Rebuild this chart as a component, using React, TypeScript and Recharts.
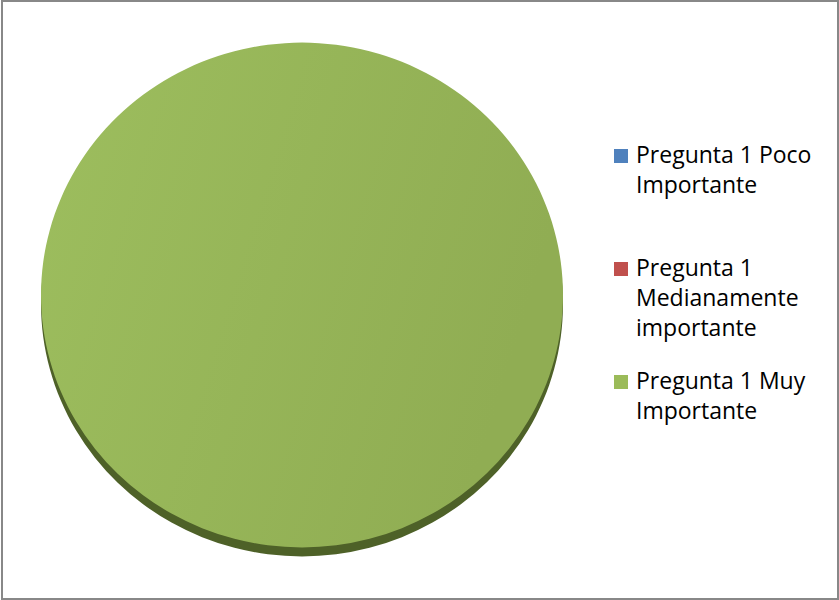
import React from "react";
import { PieChart, Pie, Cell, Legend } from "recharts";

const categories = [
  "Pregunta 1 Poco Importante",
  "Pregunta 1 Medianamente importante",
  "Pregunta 1 Muy Importante",
];
const values = [0, 0, 1];
const colors = ["#4F81BD", "#C0504D", "#9BBB59"];

const data = categories.map((name, i) => ({ name, value: values[i] }));

const CX = 302;
const CY = 295;
const R = 261;

const LegendContent = () => {
  return (
    <div style={{ position: "relative", width: 215, height: 300 }}>
      {categories.map((name, i) => (
        <div
          key={i}
          style={{
            position: "absolute",
            left: 0,
            top: i * 113,
            width: 215,
          }}
        >
          <div
            style={{
              position: "absolute",
              left: 0,
              top: 10,
              width: 14,
              height: 14,
              background: colors[i],
            }}
          />
          <div
            style={{
              position: "absolute",
              left: 22,
              top: 0,
              width: 190,
              fontFamily: "'Open Sans', sans-serif",
              fontSize: 23,
              lineHeight: "30px",
              color: "#000",
            }}
          >
            {name}
          </div>
        </div>
      ))}
    </div>
  );
};

export default function App() {
  return (
    <div style={{ position: "absolute", left: 0, top: 0, width: 839, height: 600, background: "#fff" }}>
      <style>{`
        .pie-squash { transform: scaleY(0.967); transform-origin: ${CX}px ${CY}px; transform-box: view-box; }
        .pie-shadow { transform: translateY(9px) scaleY(0.967); transform-origin: ${CX}px ${CY}px; transform-box: view-box; }
        .pie-squash .pie-squash, .pie-shadow .pie-shadow { transform: none; }
      `}</style>
      <div
        style={{
          position: "absolute",
          left: 1,
          top: 0,
          width: 838,
          height: 600,
          border: "2px solid #888",
          boxSizing: "border-box",
        }}
      />
      <div style={{ position: "absolute", left: 0, top: 0 }}>
        <PieChart width={839} height={600} margin={{ top: 0, right: 0, bottom: 0, left: 0 }}>
          <defs>
            <linearGradient id="faceGrad" x1="0" y1="0" x2="1" y2="0.3">
              <stop offset="0%" stopColor="#9DBE5E" />
              <stop offset="100%" stopColor="#90AD53" />
            </linearGradient>
          </defs>
          <Pie
            data={data}
            dataKey="value"
            nameKey="name"
            cx={CX}
            cy={CY}
            outerRadius={R}
            startAngle={90}
            endAngle={-270}
            stroke="none"
            className="pie-shadow"
            legendType="none"
            isAnimationActive={false}
          >
            {data.map((d, i) => (
              <Cell key={i} fill="#4E6128" />
            ))}
          </Pie>
          <Pie
            data={data}
            dataKey="value"
            nameKey="name"
            cx={CX}
            cy={CY}
            outerRadius={R}
            startAngle={90}
            endAngle={-270}
            stroke="none"
            className="pie-squash"
            isAnimationActive={false}
          >
            {data.map((d, i) => (
              <Cell key={i} fill={i === 2 ? "url(#faceGrad)" : colors[i]} />
            ))}
          </Pie>
          <Legend
            layout="vertical"
            align="right"
            verticalAlign="top"
            content={<LegendContent />}
            wrapperStyle={{ position: "absolute", left: 614, top: 139, width: 215, height: 300 }}
          />
        </PieChart>
      </div>
    </div>
  );
}
